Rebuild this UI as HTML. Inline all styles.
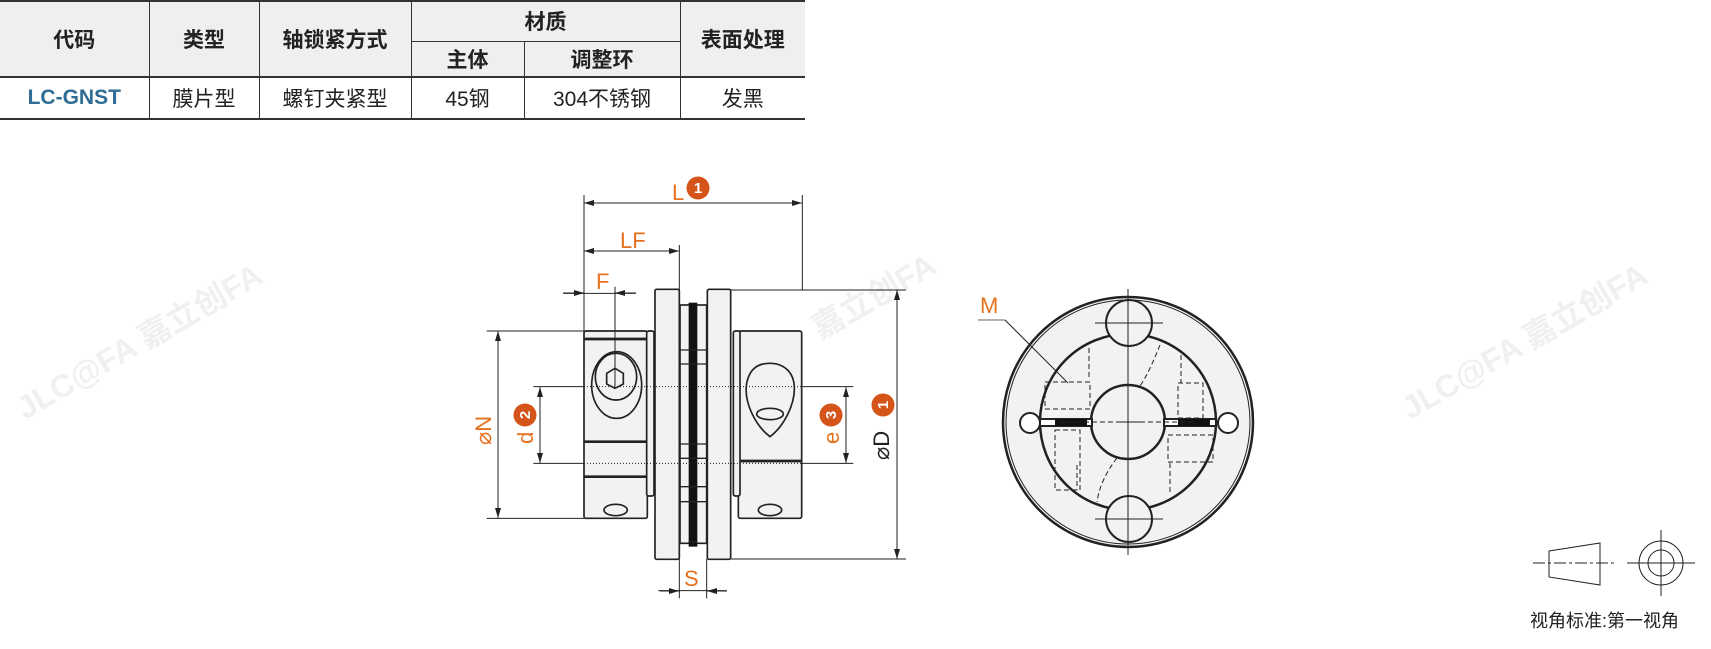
<!DOCTYPE html>
<html><head><meta charset="utf-8"><style>
html,body{margin:0;padding:0;background:#fff;}
body{width:1711px;height:649px;position:relative;overflow:hidden;font-family:"Liberation Sans","Noto Sans CJK SC",sans-serif;}
table{position:absolute;left:0;top:0;border-collapse:collapse;width:805px;font-size:21px;color:#222;text-align:center;font-family:"Liberation Sans","Noto Sans CJK SC",sans-serif;}
td{border:1.5px solid #333;padding:0;}
tr.h td{background:#efefef;font-weight:bold;}
table{border-top:2px solid #333;border-bottom:2px solid #333;}
td:first-child{border-left:none;} td:last-child{border-right:none;}
svg{position:absolute;left:0;top:0;}
</style></head><body>
<table>
<colgroup><col style="width:149px"><col style="width:110px"><col style="width:152px"><col style="width:113px"><col style="width:156px"><col style="width:125px"></colgroup>
<tr class="h" style="height:40px"><td rowspan="2">代码</td><td rowspan="2">类型</td><td rowspan="2">轴锁紧方式</td><td colspan="2">材质</td><td rowspan="2">表面处理</td></tr>
<tr class="h" style="height:36px"><td>主体</td><td>调整环</td></tr>
<tr style="height:42px;border-top:2.5px solid #333"><td style="color:#2e6d96;font-weight:bold">LC-GNST</td><td>膜片型</td><td>螺钉夹紧型</td><td>45钢</td><td>304不锈钢</td><td>发黑</td></tr>
</table>
<svg width="1711" height="649" viewBox="0 0 1711 649">
<defs>
<marker id="a" viewBox="0 0 10 6" refX="10" refY="3" markerWidth="10" markerHeight="6" orient="auto-start-reverse" markerUnits="userSpaceOnUse"><path d="M0,0L10,3L0,6z" fill="#222"/></marker>
</defs>
<!-- watermarks -->
<g fill="#f0f0f0" font-weight="bold" font-family="Liberation Sans,Noto Sans CJK SC,sans-serif">
<text x="25" y="420" font-size="32" transform="rotate(-30 25 420)">JLC@FA 嘉立创FA</text>
<text x="1410" y="420" font-size="32" transform="rotate(-30 1410 420)">JLC@FA 嘉立创FA</text>
<text x="820" y="340" font-size="32" transform="rotate(-30 820 340)">嘉立创FA</text>
</g>
<g transform="translate(460,170) scale(0.33333)" stroke="#222" stroke-width="5" fill="none">
<rect x="372" y="483" width="190" height="562" rx="6" fill="#f2f2f2"/>
<rect x="560" y="483" width="22" height="495" rx="6" fill="#f2f2f2"/>
<line x1="372" y1="507" x2="560" y2="507" stroke-width="8"/>
<line x1="372" y1="815" x2="560" y2="815" stroke-width="8"/>
<line x1="372" y1="920" x2="560" y2="920" stroke-width="8"/>
<ellipse cx="470" cy="645" rx="75" ry="100"/>
<ellipse cx="468" cy="620" rx="62" ry="70"/>
<path d="M440,610 L465,595 L490,610 L490,642 L465,655 L440,642z"/>
<ellipse cx="467" cy="1020" rx="35" ry="17"/>
<rect x="835" y="483" width="190" height="562" rx="6" fill="#f2f2f2"/>
<rect x="820" y="483" width="20" height="495" rx="6" fill="#f2f2f2"/>
<line x1="840" y1="873" x2="1025" y2="873" stroke-width="8"/>
<path d="M930,800 C890,770 850,700 860,640 C870,590 900,580 930,580 C960,580 995,595 1002,640 C1010,700 970,770 930,800z"/>
<ellipse cx="930" cy="732" rx="40" ry="17"/>
<ellipse cx="930" cy="1020" rx="35" ry="17"/>
<rect x="585" y="358" width="73" height="810" rx="5" fill="#f2f2f2"/>
<rect x="742" y="358" width="70" height="810" rx="5" fill="#f2f2f2"/>
<rect x="660" y="405" width="80" height="715" fill="#f2f2f2"/>
<rect x="686" y="398" width="26" height="732" fill="#111" stroke="none"/>
<g stroke-width="4">
<line x1="660" y1="540" x2="740" y2="540"/><line x1="660" y1="582" x2="740" y2="582"/>
<line x1="660" y1="822" x2="740" y2="822"/><line x1="660" y1="865" x2="740" y2="865"/>
<line x1="660" y1="950" x2="740" y2="950"/><line x1="660" y1="995" x2="740" y2="995"/>
<line x1="686" y1="1115" x2="712" y2="1115"/>
</g>
<g stroke-width="3" stroke-dasharray="3,6">
<line x1="372" y1="650" x2="1025" y2="650"/><line x1="372" y1="880" x2="1025" y2="880"/>
</g>
<g stroke-width="3">
<line x1="372" y1="75" x2="372" y2="483"/><line x1="1027" y1="75" x2="1027" y2="360"/>
<line x1="658" y1="225" x2="658" y2="360"/>
<line x1="465" y1="350" x2="465" y2="650"/>
<line x1="80" y1="483" x2="372" y2="483"/><line x1="80" y1="1045" x2="372" y2="1045"/>
<line x1="220" y1="650" x2="372" y2="650"/><line x1="220" y1="880" x2="372" y2="880"/>
<line x1="1025" y1="650" x2="1180" y2="650"/><line x1="1025" y1="880" x2="1180" y2="880"/>
<line x1="812" y1="360" x2="1338" y2="360"/><line x1="812" y1="1167" x2="1338" y2="1167"/>
<line x1="658" y1="1167" x2="658" y2="1285"/><line x1="740" y1="1167" x2="740" y2="1285"/>
<line x1="310" y1="370" x2="527" y2="370"/>
<line x1="595" y1="1262" x2="800" y2="1262"/>
</g>
</g>
<g stroke="#222" stroke-width="1" fill="none">
<line x1="584" y1="203" x2="802" y2="203" marker-start="url(#a)" marker-end="url(#a)"/>
<line x1="584" y1="251" x2="679" y2="251" marker-start="url(#a)" marker-end="url(#a)"/>
<line x1="563" y1="293" x2="584" y2="293" marker-end="url(#a)"/>
<line x1="636" y1="293" x2="615" y2="293" marker-end="url(#a)"/>
<line x1="498" y1="331" x2="498" y2="518" marker-start="url(#a)" marker-end="url(#a)"/>
<line x1="540" y1="387" x2="540" y2="463" marker-start="url(#a)" marker-end="url(#a)"/>
<line x1="846" y1="387" x2="846" y2="463" marker-start="url(#a)" marker-end="url(#a)"/>
<line x1="897" y1="290" x2="897" y2="559" marker-start="url(#a)" marker-end="url(#a)"/>
<line x1="660" y1="591" x2="679" y2="591" marker-end="url(#a)"/>
<line x1="727" y1="591" x2="707" y2="591" marker-end="url(#a)"/>
</g>
<g font-family="Liberation Sans,sans-serif" fill="#e8711f" font-size="22">
<text x="672" y="200">L</text>
<text x="620" y="248">LF</text>
<text x="596" y="289">F</text>
<text x="684" y="586">S</text>
<text transform="translate(491,445) rotate(-90)">⌀N</text>
<text transform="translate(533,444) rotate(-90)">d</text>
<text transform="translate(839,444) rotate(-90)">e</text>
<text transform="translate(889,460) rotate(-90)" fill="#222">⌀D</text>
<text x="980" y="313">M</text>
</g>
<g fill="#d4541a">
<circle cx="698" cy="188" r="11.5"/>
<circle cx="525" cy="415" r="11.5"/>
<circle cx="831" cy="415" r="11.5"/>
<circle cx="883" cy="405" r="11.5"/>
</g>
<g fill="#fff" font-family="Liberation Sans,sans-serif" font-weight="bold" font-size="15" text-anchor="middle">
<text x="698" y="193">1</text>
<text transform="translate(530,415) rotate(-90)">2</text>
<text transform="translate(836,415) rotate(-90)">3</text>
<text transform="translate(888,405) rotate(-90)">1</text>
</g>
<g stroke="#222" fill="none">
<circle cx="1128" cy="422" r="125" fill="#f2f2f2" stroke-width="2.5"/>
<circle cx="1128" cy="422" r="122" stroke-width="1"/>
<circle cx="1128" cy="422" r="88" stroke-width="2.5"/>
<circle cx="1128" cy="422" r="37" fill="#f2f2f2" stroke-width="2.5"/>
<circle cx="1129" cy="323" r="23" fill="#f2f2f2" stroke-width="2"/>
<circle cx="1129" cy="519" r="23" fill="#f2f2f2" stroke-width="2"/>
<circle cx="1030" cy="423" r="10" fill="#fff" stroke-width="2"/>
<circle cx="1228" cy="423" r="10" fill="#fff" stroke-width="2"/>
<rect x="1040" y="419" width="52" height="7" fill="#fff" stroke-width="2"/>
<rect x="1164" y="419" width="52" height="7" fill="#fff" stroke-width="2"/>
<rect x="1055" y="419" width="32" height="7" fill="#111" stroke="none"/>
<rect x="1178" y="419" width="32" height="7" fill="#111" stroke="none"/>
<g stroke-width="1" stroke-dasharray="5,3">
<rect x="1045" y="382" width="45" height="27"/>
<rect x="1168" y="435" width="45" height="27"/>
<rect x="1055" y="430" width="25" height="60"/>
<rect x="1178" y="383" width="25" height="35"/>
<line x1="1089" y1="348" x2="1089" y2="380"/>
<line x1="1077" y1="465" x2="1077" y2="490"/>
<line x1="1181" y1="355" x2="1181" y2="383"/>
<line x1="1170" y1="463" x2="1170" y2="495"/>
<line x1="1060" y1="422" x2="1195" y2="422"/>
<line x1="1128" y1="330" x2="1128" y2="515"/>
<path d="M1160,345 Q1148,375 1140,386"/>
<path d="M1117,458 Q1100,480 1097,502"/>
</g>
<g stroke-width="1">
<line x1="1128" y1="289" x2="1128" y2="555"/>
<line x1="1095" y1="323" x2="1163" y2="323"/><line x1="1095" y1="519" x2="1163" y2="519"/>
<line x1="1116" y1="422" x2="1140" y2="422"/>
<line x1="978" y1="320" x2="1005" y2="320" stroke="#999" stroke-width="1.5"/>
<line x1="1005" y1="320" x2="1068" y2="383"/>
</g>
</g>
<g stroke="#222" stroke-width="1" fill="none">
<path d="M1549,551 L1600,543 L1600,585 L1549,577z"/>
<line x1="1533" y1="563" x2="1615" y2="563" stroke-dasharray="12,3,3,3"/>
<circle cx="1661" cy="563" r="22"/><circle cx="1661" cy="563" r="13"/>
<line x1="1627" y1="563" x2="1695" y2="563"/><line x1="1661" y1="530" x2="1661" y2="596"/>
</g>
<text x="1530" y="627" font-size="18" fill="#222" font-family="Liberation Sans,Noto Sans CJK SC,sans-serif">视角标准:第一视角</text>
</svg>
</body></html>
